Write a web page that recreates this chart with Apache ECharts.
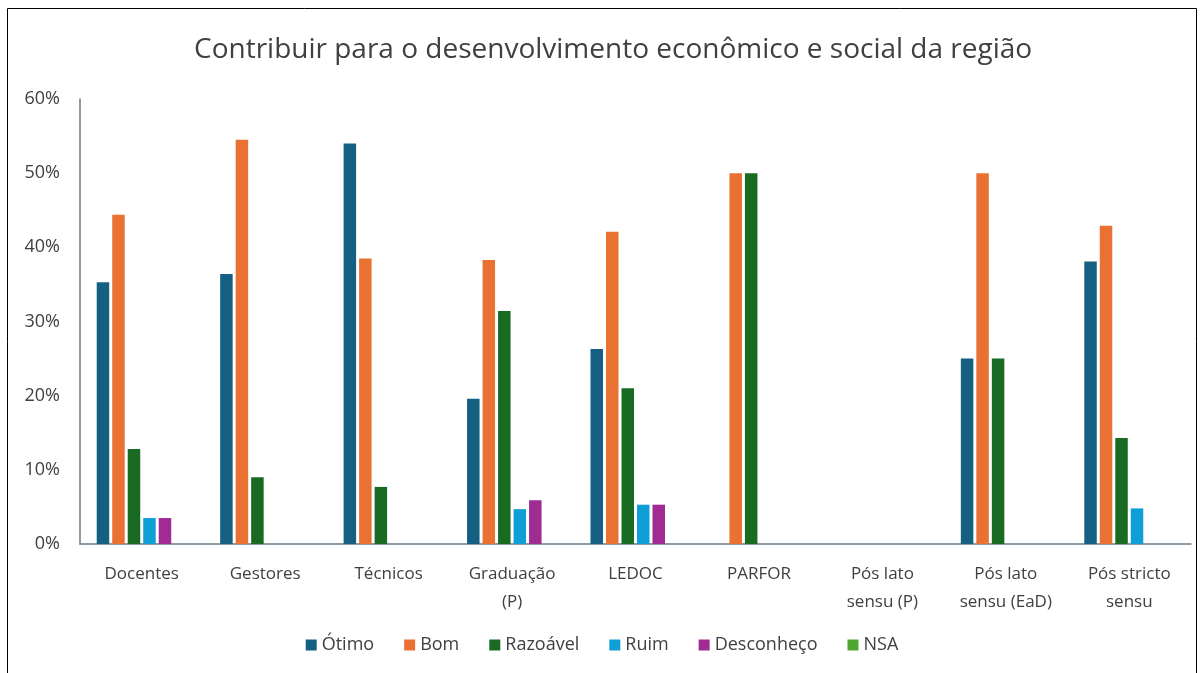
<!DOCTYPE html>
<html>
<head>
<meta charset="utf-8">
<script src="https://cdn.jsdelivr.net/npm/echarts@6/dist/echarts.min.js"></script>
<style>
html,body{margin:0;padding:0;background:#fff;}
#c{width:1204px;height:673px;}
</style>
</head>
<body>
<div id="c"></div>
<script>
const categories = ["Docentes", "Gestores", "Técnicos", "Graduação\n(P)", "LEDOC", "PARFOR", "Pós lato\nsensu (P)", "Pós lato\nsensu (EaD)", "Pós stricto\nsensu"];
const seriesNames = ["Ótimo", "Bom", "Razoável", "Ruim", "Desconheço", "NSA"];
const otimo      = [35.3, 36.4, 54.0, 19.6, 26.3, 0, 0, 25.0, 38.1];
const bom        = [44.4, 54.5, 38.5, 38.3, 42.1, 50.0, 0, 50.0, 42.9];
const razoavel   = [12.8, 9.0, 7.7, 31.4, 21.0, 50.0, 0, 25.0, 14.3];
const ruim       = [3.5, 0, 0, 4.7, 5.3, 0, 0, 0, 4.8];
const desconheco = [3.5, 0, 0, 5.9, 5.3, 0, 0, 0, 0];
const nsa        = [0, 0, 0, 0, 0, 0, 0, 0, 0];
const yTicks = [0, 10, 20, 30, 40, 50, 60];

const colors = ["#156082", "#E97132", "#196B24", "#0F9ED5", "#A02B93", "#4EA72E"];
const allData = [otimo, bom, razoavel, ruim, desconheco, nsa];

const chart = echarts.init(document.getElementById('c'));
const font = "Open Sans";
chart.setOption({
  animation: false,
  backgroundColor: '#fff',
  color: colors,
  title: {
    text: "Contribuir para o desenvolvimento econômico e social da região",
    left: 189, top: 31,
    textStyle: {fontFamily: font, fontSize: 28, fontWeight: 'normal', color: '#404040'}
  },
  legend: {
    bottom: 14, left: 'center',
    itemWidth: 11, itemHeight: 11, itemGap: 30,
    icon: 'rect',
    textStyle: {fontFamily: font, fontSize: 18, color: '#404040'},
    data: seriesNames
  },
  grid: {left: 80, right: 13, top: 99, bottom: 129},
  xAxis: {
    type: 'category', data: categories,
    axisLine: {lineStyle: {color: '#6b7b86', width: 1.5}},
    axisTick: {show: false},
    axisLabel: {fontFamily: font, fontSize: 17, color: '#404040', margin: 16, lineHeight: 28, interval: 0}
  },
  yAxis: {
    type: 'value', min: yTicks[0], max: yTicks[yTicks.length-1], interval: 10,
    axisLine: {show: true, lineStyle: {color: '#6b7b86', width: 1.5}},
    axisTick: {show: false},
    splitLine: {show: false},
    axisLabel: {fontFamily: font, fontSize: 18, color: '#404040', margin: 20, formatter: v => v + '%'}
  },
  graphic: [{
    type: 'rect', shape: {x: 7.5, y: 8.5, width: 1189, height: 680},
    style: {fill: 'none', stroke: '#000', lineWidth: 1}, silent: true
  }],
  series: seriesNames.map((n, i) => ({
    name: n, type: 'bar', data: allData[i],
    barWidth: 12.5, barGap: '24%', barCategoryGap: '27%',
    itemStyle: {color: colors[i]}
  }))
});
</script>
</body>
</html>
